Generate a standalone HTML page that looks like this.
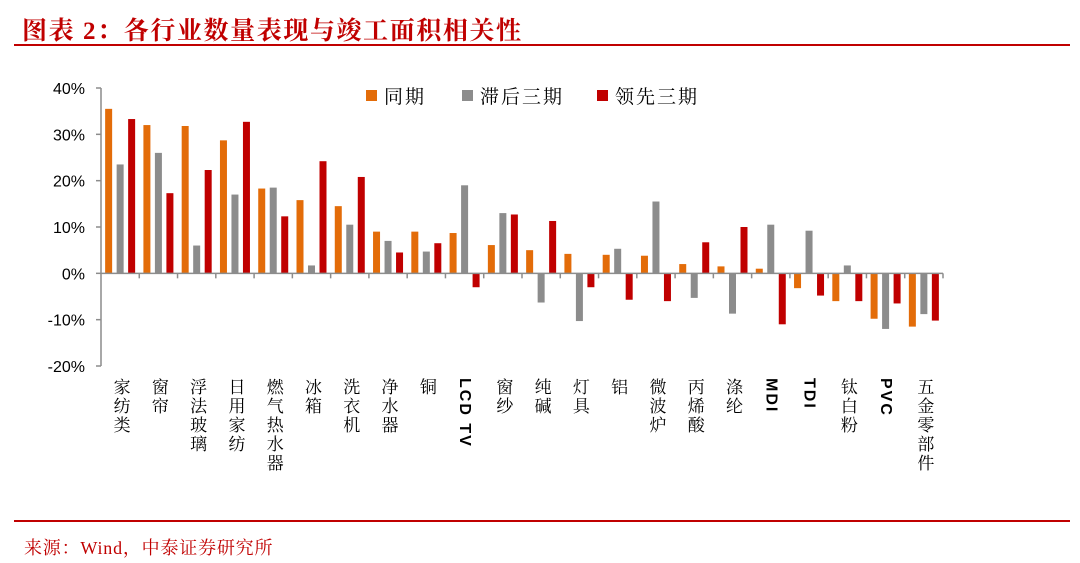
<!DOCTYPE html>
<html><head><meta charset="utf-8"><style>
body{margin:0;width:1080px;height:563px;background:#fff;overflow:hidden;font-family:"Liberation Sans","Noto Serif CJK SC",serif;}
#title{position:absolute;left:22px;top:11px;font-size:25px;font-weight:bold;color:#c00000;font-family:"Liberation Serif","Noto Serif CJK SC",serif;letter-spacing:1.6px}
.rl{position:absolute;left:14px;width:1056px;background:#c00000}
#src{position:absolute;left:24px;top:534px;font-size:18px;color:#c00000;font-family:"Liberation Serif","Noto Serif CJK SC",serif;letter-spacing:0.8px}
</style></head><body>
<div id="title">图表 2：各行业数量表现与竣工面积相关性</div>
<div class="rl" style="top:44px;height:2px"></div>
<div class="rl" style="top:520px;height:2px"></div>
<div id="src">来源：Wind，中泰证券研究所</div>
<svg id="chart" width="1080" height="563" style="position:absolute;left:0;top:0"></svg>
<script>
const categories=["家纺类","窗帘","浮法玻璃","日用家纺","燃气热水器","冰箱","洗衣机","净水器","铜","LCD TV","窗纱","纯碱","灯具","铝","微波炉","丙烯酸","涤纶","MDI","TDI","钛白粉","PVC","五金零部件"];
const seriesNames=["同期","滞后三期","领先三期"];
const sameValues=[35.5,32,31.8,28.7,18.3,15.8,14.5,9,9,8.7,6.1,5,4.2,4,3.8,2,1.5,1,-3.2,-6,-9.8,-11.5];
const lagValues=[23.5,26,6,17,18.5,1.7,10.5,7,4.7,19,13,-6.3,-10.3,5.3,15.5,-5.3,-8.7,10.5,9.2,1.7,-12,-8.8];
const leadValues=[33.3,17.3,22.3,32.7,12.3,24.2,20.8,4.5,6.5,-3,12.7,11.3,-3,-5.7,-6,6.7,10,-11,-4.8,-6,-6.5,-10.2];
const yTicks=[40,30,20,10,0,-10,-20];
const colors=["#e36c09","#8c8c8c","#c00000"];
const svg=document.getElementById('chart');const NS="http://www.w3.org/2000/svg";
const x0=101,x1=943,yTop=88,yBot=366,vMax=40,vMin=-20;
const y=v=>yTop+(vMax-v)*(yBot-yTop)/(vMax-vMin);
const cw=(x1-x0)/categories.length;
function mk(t,a,p){const e=document.createElementNS(NS,t);for(const k in a)e.setAttribute(k,a[k]);(p||svg).appendChild(e);return e;}
let ax=mk('line',{x1:x0,y1:yTop,x2:x0,y2:yBot,stroke:'#8c8c8c','stroke-width':1.5});


yTicks.forEach(t=>{
  let l=mk('line',{x1:x0-5,y1:y(t),x2:x0,y2:y(t),stroke:'#8c8c8c','stroke-width':1.5});
  
  
  let tx=mk('text',{x:x0-16,y:y(t)+6,'text-anchor':'end','font-size':16,fill:'#000','font-family':'Liberation Sans, sans-serif'});
  tx.textContent=t+'%';
  
  
});
const series=[sameValues,lagValues,leadValues];
const bw=7;
categories.forEach((c,i)=>{
  const cx=x0+cw*(i+0.5);
  series.forEach((s,j)=>{
    const v=s[i];const bx=cx+(j-1)*(bw+4.5)-bw/2;
    const r=mk('rect',{x:bx,y:Math.min(y(v),y(0)),width:bw,height:Math.abs(y(v)-y(0)),fill:colors[j]});
    
    
  });
  const lbl=mk('text',{x:cx,y:378,'font-size':17,fill:'#000','font-family':'Liberation Sans, Noto Serif CJK SC, serif','writing-mode':'tb','glyph-orientation-vertical':0,'letter-spacing':2});
  if(/^[A-Z ]+$/.test(c)){lbl.setAttribute('font-weight','bold');lbl.setAttribute('font-size','16');}
  lbl.textContent=c;
  
  
});
let xa=mk('line',{x1:x0,y1:y(0),x2:x1,y2:y(0),stroke:'#8c8c8c','stroke-width':1.5});


for(let i=1;i<=categories.length;i++){
  let l=mk('line',{x1:x0+cw*i,y1:y(0),x2:x0+cw*i,y2:y(0)+5,stroke:'#8c8c8c','stroke-width':1.5});
  
  
}
const lx=[366,462,597];
seriesNames.forEach((n,j)=>{
  const g=mk('g',{});
  
  
  mk('rect',{x:lx[j],y:90,width:11,height:11,fill:colors[j]},g);
  const t=mk('text',{x:lx[j]+18,y:103,'font-size':19,fill:'#000','font-family':'Noto Serif CJK SC, serif','letter-spacing':2},g);
  t.textContent=n;
});
</script>
</body></html>
